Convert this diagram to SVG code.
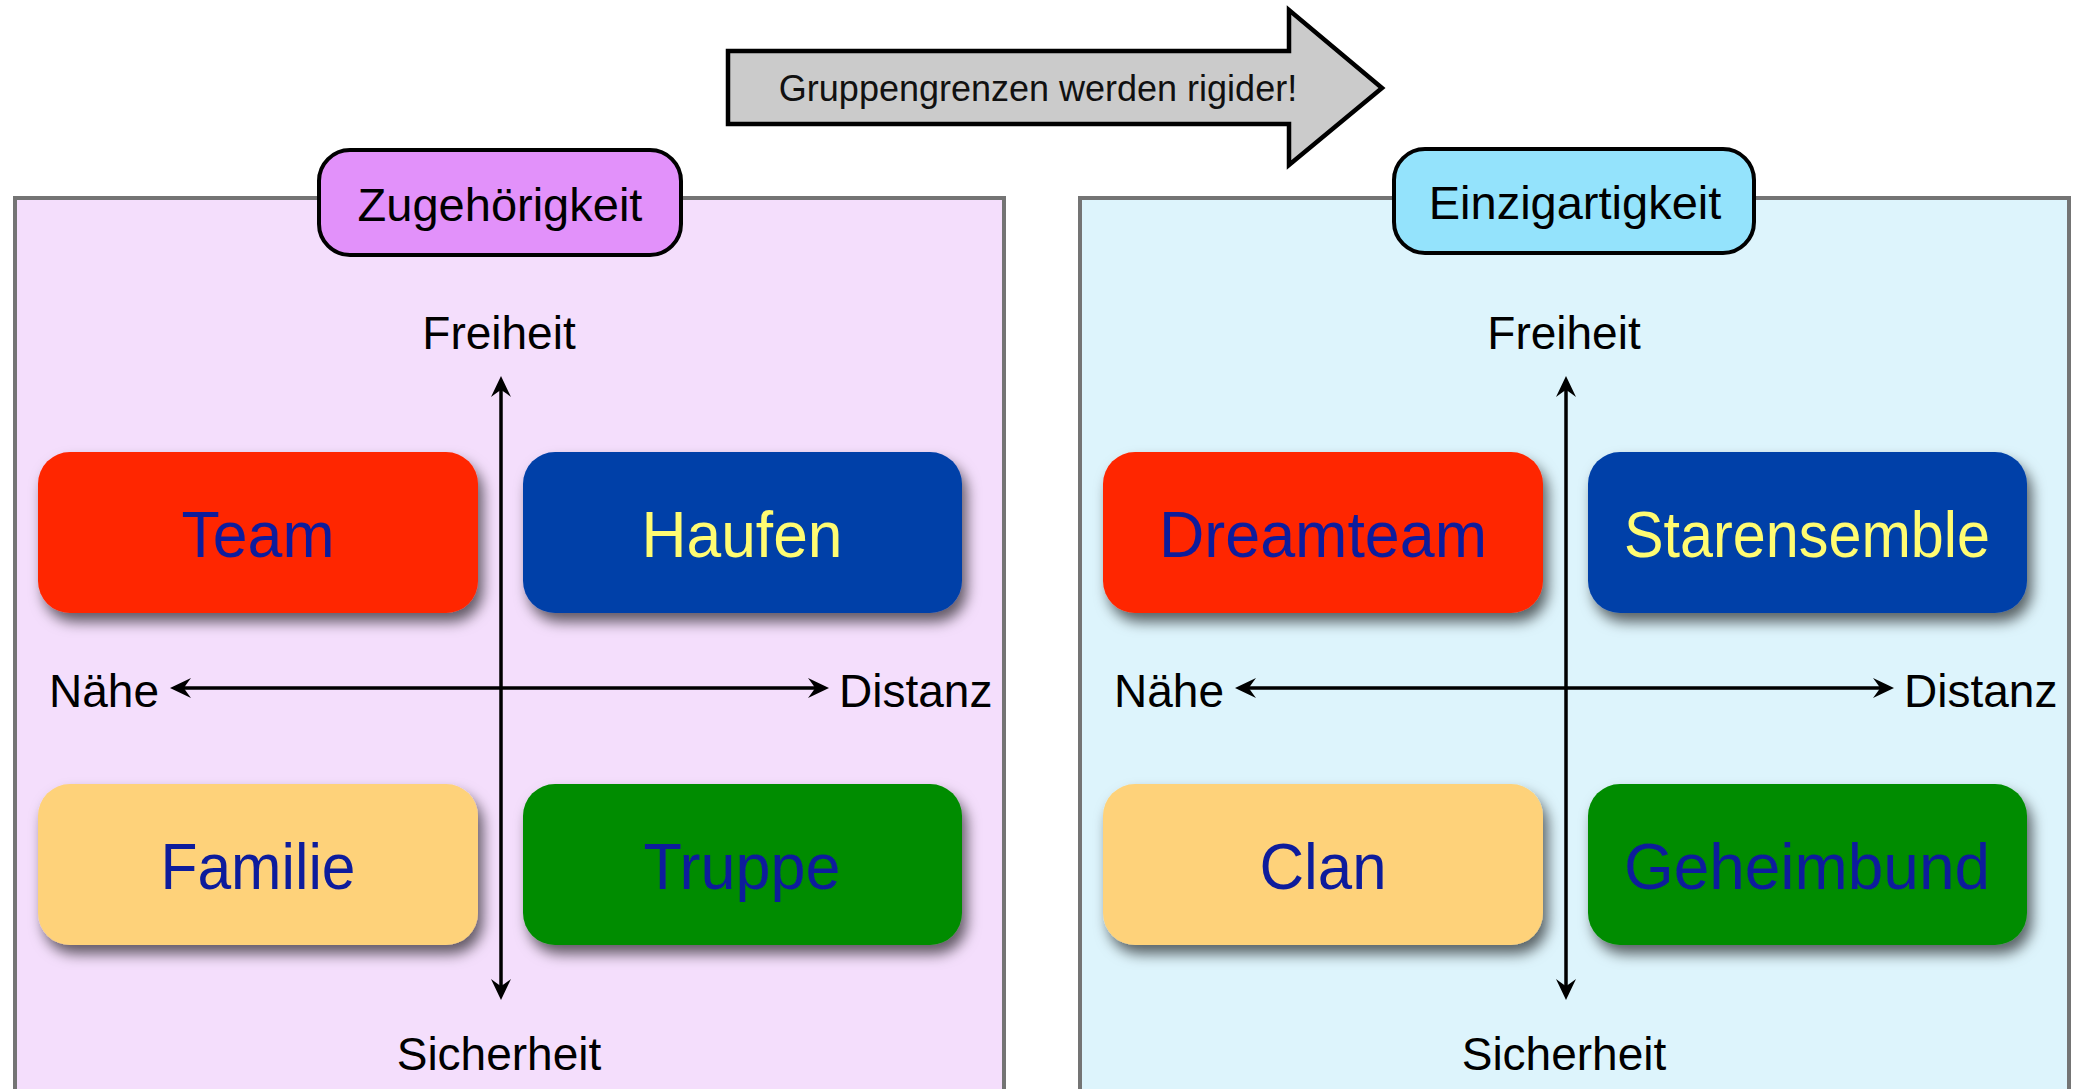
<svg xmlns="http://www.w3.org/2000/svg" width="2076" height="1089" viewBox="0 0 2076 1089">
<style>
  text { font-family: "Liberation Sans", Arial, sans-serif; }
  .panel { stroke: #747474; stroke-width: 4; }
  .hdr { stroke: #000; stroke-width: 4; }
  .hdrtxt { font-size: 47px; fill: #000; text-anchor: middle; }
  .axis { stroke: #000; stroke-width: 3.5; fill: none; marker-end: url(#ah); marker-start: url(#ah); }
  .lbl { font-size: 46px; fill: #000; }
  .mid { text-anchor: middle; }
  .quad { filter: url(#sh); }
  .qtxt { font-size: 64px; text-anchor: middle; fill: #0F1E9C; }
  .ytxt { fill: #FFFC72; }
</style>
<defs>
  <marker id="ah" markerUnits="userSpaceOnUse" viewBox="-12 -11 23 22" refX="0" refY="0" markerWidth="23" markerHeight="22" orient="auto-start-reverse">
    <path d="M10,0 L-11,-10 Q-5,-2 -4,0 Q-5,2 -11,10 Z" fill="#000"/>
  </marker>
  <filter id="sh" x="-10%" y="-15%" width="125%" height="140%">
    <feGaussianBlur in="SourceAlpha" stdDeviation="7"/>
    <feOffset dx="5" dy="9" result="b"/>
    <feFlood flood-color="#000" flood-opacity="0.6"/>
    <feComposite in2="b" operator="in"/>
    <feMerge><feMergeNode/><feMergeNode in="SourceGraphic"/></feMerge>
  </filter>
</defs>
<rect width="2076" height="1089" fill="#fff"/>

<g id="transition-arrow">
  <polygon points="728,51 1289,51 1289,10 1382,88 1289,165 1289,124 728,124" fill="#CBCBCB" stroke="#000" stroke-width="4.5" stroke-linejoin="miter"/>
  <text x="1038" y="101" font-size="36" text-anchor="middle" fill="#111">Gruppengrenzen werden rigider!</text>
</g>

<g id="panel-left">
  <rect class="panel" x="15" y="198" width="989" height="920" fill="#F4DEFC"/>
</g>
<g id="panel-right">
  <rect class="panel" x="1080" y="198" width="989" height="920" fill="#DDF4FC"/>
</g>

<g id="header-zugehoerigkeit">
  <rect class="hdr" x="319" y="150" width="362" height="105" rx="31" fill="#E291FA"/>
  <text class="hdrtxt" x="500" y="221">Zugehörigkeit</text>
</g>
<g id="header-einzigartigkeit">
  <rect class="hdr" x="1394" y="149" width="360" height="104" rx="31" fill="#94E3FC"/>
  <text class="hdrtxt" x="1575" y="219">Einzigartigkeit</text>
</g>

<g id="node-team" class="quad"><rect x="38" y="452" width="440" height="161" rx="32" fill="#FF2600"/><text class="qtxt" x="258" y="557" textLength="153" lengthAdjust="spacingAndGlyphs">Team</text></g>
<g id="node-haufen" class="quad"><rect x="523" y="452" width="439" height="161" rx="32" fill="#0041A8"/><text class="qtxt ytxt" x="742" y="557" textLength="201" lengthAdjust="spacingAndGlyphs">Haufen</text></g>
<g id="node-familie" class="quad"><rect x="38" y="784" width="440" height="161" rx="32" fill="#FED27A"/><text class="qtxt" x="258" y="889" textLength="195" lengthAdjust="spacingAndGlyphs">Familie</text></g>
<g id="node-truppe" class="quad"><rect x="523" y="784" width="439" height="161" rx="32" fill="#008C00"/><text class="qtxt" x="742" y="889" textLength="197" lengthAdjust="spacingAndGlyphs">Truppe</text></g>

<g id="node-dreamteam" class="quad"><rect x="1103" y="452" width="440" height="161" rx="32" fill="#FF2600"/><text class="qtxt" x="1323" y="557" textLength="328" lengthAdjust="spacingAndGlyphs">Dreamteam</text></g>
<g id="node-starensemble" class="quad"><rect x="1588" y="452" width="439" height="161" rx="32" fill="#0041A8"/><text class="qtxt ytxt" x="1807" y="557" textLength="366" lengthAdjust="spacingAndGlyphs">Starensemble</text></g>
<g id="node-clan" class="quad"><rect x="1103" y="784" width="440" height="161" rx="32" fill="#FED27A"/><text class="qtxt" x="1323" y="889" textLength="127" lengthAdjust="spacingAndGlyphs">Clan</text></g>
<g id="node-geheimbund" class="quad"><rect x="1588" y="784" width="439" height="161" rx="32" fill="#008C00"/><text class="qtxt" x="1807" y="889" textLength="366" lengthAdjust="spacingAndGlyphs">Geheimbund</text></g>

<g id="connectors">
  <line class="axis" x1="501" y1="386" x2="501" y2="990"/>
  <line class="axis" x1="180" y1="688" x2="819" y2="688"/>
  <line class="axis" x1="1566" y1="386" x2="1566" y2="990"/>
  <line class="axis" x1="1245" y1="688" x2="1884" y2="688"/>
</g>

<g id="axis-labels-left">
  <text class="lbl mid" x="499" y="349">Freiheit</text>
  <text class="lbl mid" x="499" y="1070">Sicherheit</text>
  <text class="lbl" x="49" y="707">Nähe</text>
  <text class="lbl" x="839" y="707">Distanz</text>
</g>
<g id="axis-labels-right">
  <text class="lbl mid" x="1564" y="349">Freiheit</text>
  <text class="lbl mid" x="1564" y="1070">Sicherheit</text>
  <text class="lbl" x="1114" y="707">Nähe</text>
  <text class="lbl" x="1904" y="707">Distanz</text>
</g>
</svg>
